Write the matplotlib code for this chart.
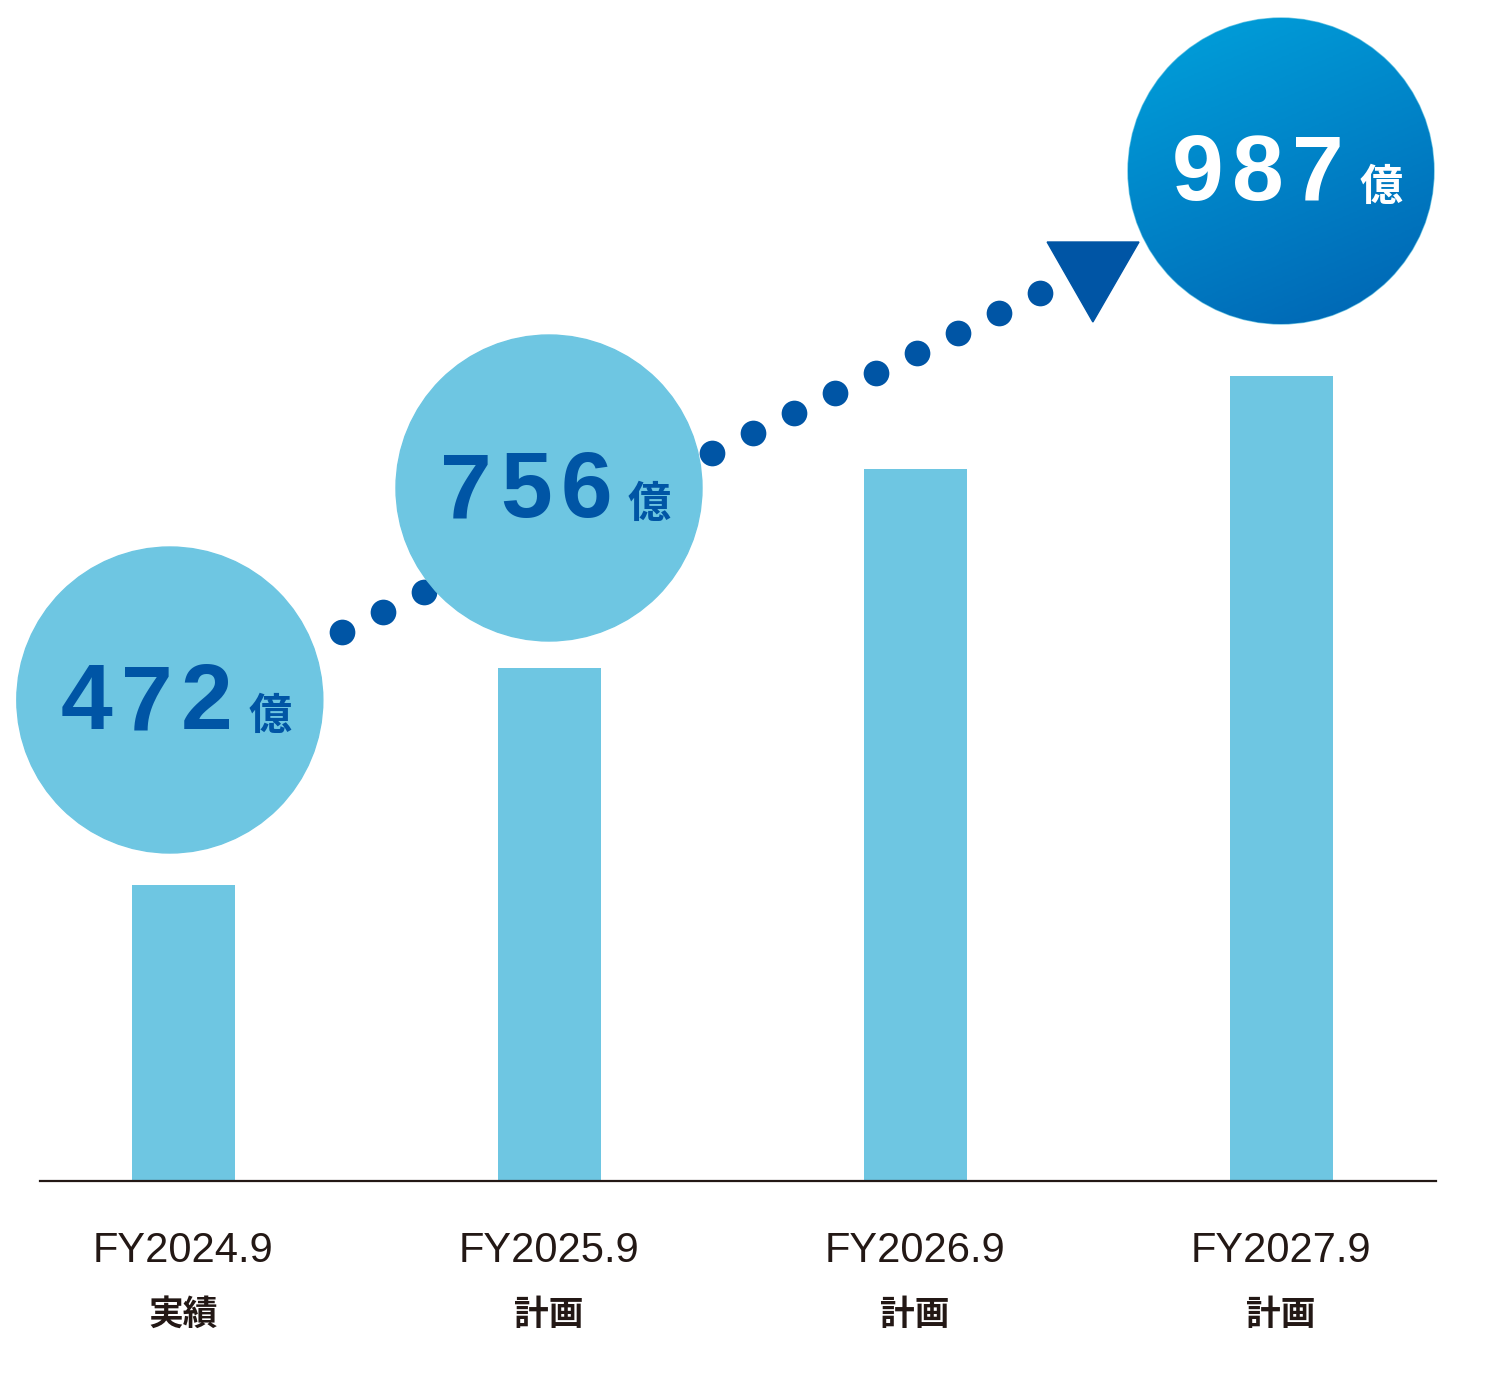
import numpy as np
import matplotlib.pyplot as plt
from matplotlib.patches import Ellipse, Polygon
from matplotlib.colors import LinearSegmentedColormap

# data (bar heights are in drawing units, the chart has no scale)
years = ['FY2024.9', 'FY2025.9', 'FY2026.9', 'FY2027.9']
kinds = ['実績', '計画', '計画', '計画']
bar_heights = [296, 513, 712, 805]
bubble_values = ['472', '756', None, '987']

# layout of the bubbles (category offset, centre height)
bubble_dx = [-0.036, 0.0, 0.0, 0.0]
bubble_y = [481, 693, None, 1010]

light = '#6ec6e2'
dark = '#0055a5'
ink = '#231815'

W, H = 1500, 1377
unit = 366          # pixels per category step
r = 153             # bubble radius in pixels

fig = plt.figure(figsize=(W / 100, H / 100), dpi=100)
ax = fig.add_axes([0, 0, 1, 1])
ax.set_xlim(-0.5, -0.5 + W / unit)
ax.set_ylim(-196, H - 196)
ax.axis('off')

x = np.arange(len(years))
ax.bar(x, bar_heights, width=103 / unit, color=light, zorder=1)
ax.plot([-0.391, 3.423], [0, 0], color=ink, lw=1.6, zorder=2)

for i in x:
    ax.text(i, -70, years[i], ha='center', va='center', fontsize=30,
            family=['Liberation Sans', 'DejaVu Sans'], color=ink)
    ax.text(i, -133, kinds[i], ha='center', va='center', fontsize=25,
            family=['Noto Sans CJK JP'], fontweight='bold', color=ink)

# dotted growth arrow
dots_x = np.linspace(0.322, 2.342, 19)
dots_y = np.linspace(529, 888, 19)
ax.plot(dots_x, dots_y, 'o', ms=18.5, color=dark, mec='none', zorder=2)
ax.add_patch(Polygon([[2.361, 939], [2.612, 939], [2.486, 859]],
                     closed=True, color=dark, zorder=2))

# gradient for the last bubble
cmap = LinearSegmentedColormap.from_list('blu', ['#00a2dc', '#0063b2'])
gx, gy = np.meshgrid(np.linspace(0, 1, 200), np.linspace(0, 1, 200))
grad = 0.3 * gx + 0.7 * gy

for i in x:
    if bubble_values[i] is None:
        continue
    cx = i + bubble_dx[i]
    cy = bubble_y[i]
    last = i == len(years) - 1
    circ = Ellipse((cx, cy), 2 * r / unit, 2 * r, color=light, zorder=3)
    ax.add_patch(circ)
    if last:
        img = ax.imshow(grad, cmap=cmap, extent=(cx - r / unit, cx + r / unit, cy - r, cy + r),
                        origin='upper', aspect='auto', zorder=3.5)
        img.set_clip_path(circ)
    tc = 'white' if last else dark
    # digits set one by one to get the wide tracking of the original
    digits = bubble_values[i]
    for k, d in enumerate(digits):
        off = 37 - 60 * (len(digits) - 1 - k)
        ax.text(cx + off / unit, cy - 29, d, ha='center', va='baseline',
                fontsize=67, fontweight='bold', family=['Liberation Sans'], color=tc, zorder=4)
    ax.text(cx + 79 / unit, cy - 29, '億', ha='left', va='baseline',
            fontsize=31, fontweight='bold', family=['Noto Sans CJK JP'], color=tc, zorder=4)

fig.savefig('out.png', dpi=100)
